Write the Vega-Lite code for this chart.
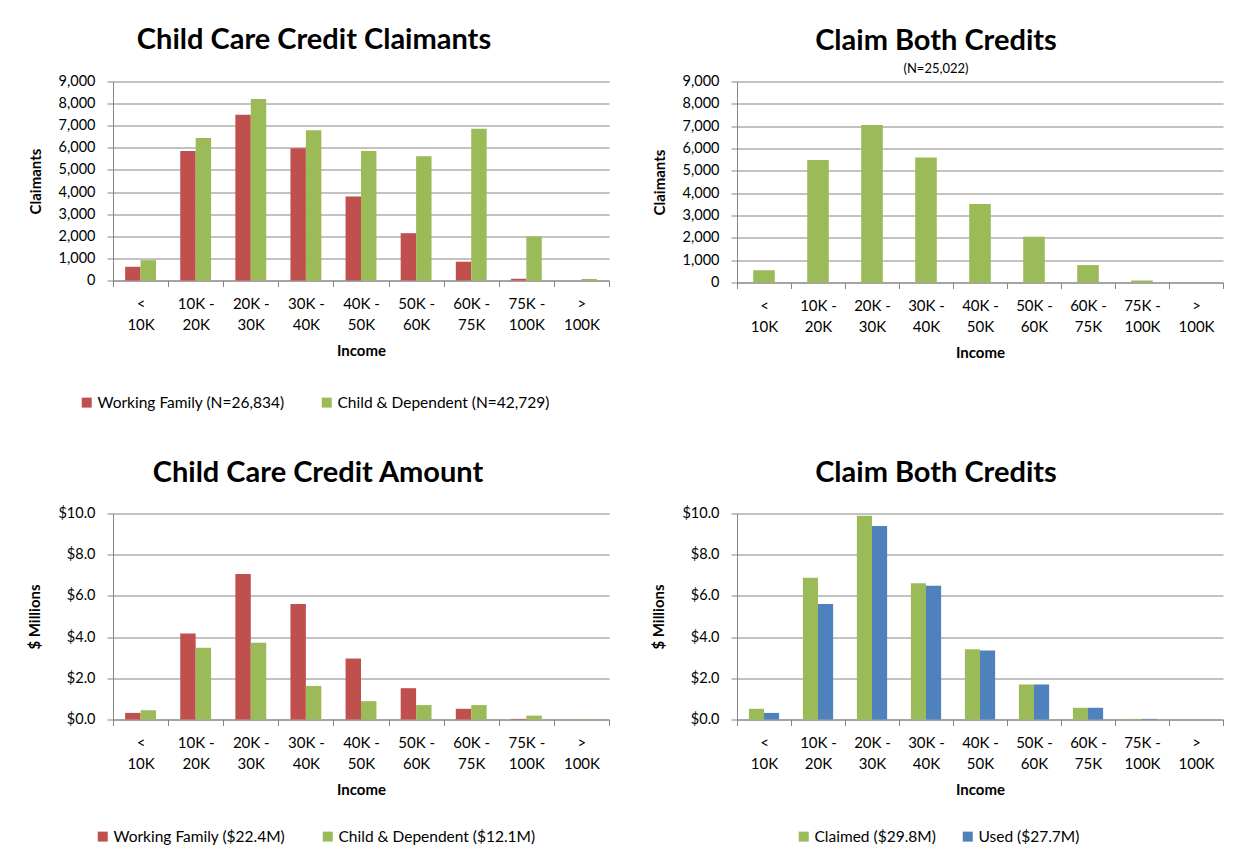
{
  "$schema": "https://vega.github.io/schema/vega-lite/v6.json",
  "background": "white",
  "padding": {"left": 27, "top": 25.5, "right": 0, "bottom": 0},
  "config": {
    "font": "Lato",
    "view": {"stroke": null},
    "title": {"font": "Lato", "fontSize": 29, "fontWeight": "bold", "color": "#000", "anchor": "middle", "frame": "group", "offset": 18.5, "subtitleFont": "Lato", "subtitleFontSize": 13, "subtitleColor": "#000"},
    "axis": {"labelFont": "Lato", "labelFontSize": 14, "labelColor": "#000", "titleFont": "Lato", "titleFontSize": 15, "titleFontWeight": "bold", "titleColor": "#000", "domainColor": "#868686", "tickColor": "#868686", "gridColor": "#868686", "gridOpacity": 1, "tickSize": 6},
    "axisX": {"labelAngle": 0, "grid": false, "tickBand": "extent", "labelFontSize": 15, "labelPadding": 10, "labelLineHeight": 21, "titlePadding": 11},
    "axisY": {"grid": true, "labelFontSize": 14.5, "labelPadding": 12, "titlePadding": 15},
    "legend": {"labelFont": "Lato", "labelFontSize": 15.5, "labelColor": "#000", "symbolType": "square", "symbolSize": 100, "symbolStrokeWidth": 0, "labelLimit": 400, "labelOffset": 3}
  },
  "datasets": {
    "claimants": [
      {"income": "< 10K", "series": "Working Family (N=26,834)", "value": 620},
      {"income": "< 10K", "series": "Child & Dependent (N=42,729)", "value": 920},
      {"income": "10K - 20K", "series": "Working Family (N=26,834)", "value": 5860},
      {"income": "10K - 20K", "series": "Child & Dependent (N=42,729)", "value": 6440},
      {"income": "20K - 30K", "series": "Working Family (N=26,834)", "value": 7500},
      {"income": "20K - 30K", "series": "Child & Dependent (N=42,729)", "value": 8210},
      {"income": "30K - 40K", "series": "Working Family (N=26,834)", "value": 5980},
      {"income": "30K - 40K", "series": "Child & Dependent (N=42,729)", "value": 6800},
      {"income": "40K - 50K", "series": "Working Family (N=26,834)", "value": 3800},
      {"income": "40K - 50K", "series": "Child & Dependent (N=42,729)", "value": 5860},
      {"income": "50K - 60K", "series": "Working Family (N=26,834)", "value": 2140},
      {"income": "50K - 60K", "series": "Child & Dependent (N=42,729)", "value": 5620},
      {"income": "60K - 75K", "series": "Working Family (N=26,834)", "value": 850},
      {"income": "60K - 75K", "series": "Child & Dependent (N=42,729)", "value": 6860},
      {"income": "75K - 100K", "series": "Working Family (N=26,834)", "value": 80},
      {"income": "75K - 100K", "series": "Child & Dependent (N=42,729)", "value": 1990},
      {"income": "> 100K", "series": "Working Family (N=26,834)", "value": 0},
      {"income": "> 100K", "series": "Child & Dependent (N=42,729)", "value": 70}
    ],
    "bothCount": [
      {"income": "< 10K", "value": 550},
      {"income": "10K - 20K", "value": 5480},
      {"income": "20K - 30K", "value": 7050},
      {"income": "30K - 40K", "value": 5600},
      {"income": "40K - 50K", "value": 3510},
      {"income": "50K - 60K", "value": 2050},
      {"income": "60K - 75K", "value": 780},
      {"income": "75K - 100K", "value": 90},
      {"income": "> 100K", "value": 5}
    ],
    "amount": [
      {"income": "< 10K", "series": "Working Family ($22.4M)", "value": 0.32},
      {"income": "< 10K", "series": "Child & Dependent ($12.1M)", "value": 0.45},
      {"income": "10K - 20K", "series": "Working Family ($22.4M)", "value": 4.18},
      {"income": "10K - 20K", "series": "Child & Dependent ($12.1M)", "value": 3.48},
      {"income": "20K - 30K", "series": "Working Family ($22.4M)", "value": 7.06},
      {"income": "20K - 30K", "series": "Child & Dependent ($12.1M)", "value": 3.72},
      {"income": "30K - 40K", "series": "Working Family ($22.4M)", "value": 5.61},
      {"income": "30K - 40K", "series": "Child & Dependent ($12.1M)", "value": 1.63},
      {"income": "40K - 50K", "series": "Working Family ($22.4M)", "value": 2.96},
      {"income": "40K - 50K", "series": "Child & Dependent ($12.1M)", "value": 0.89},
      {"income": "50K - 60K", "series": "Working Family ($22.4M)", "value": 1.52},
      {"income": "50K - 60K", "series": "Child & Dependent ($12.1M)", "value": 0.70},
      {"income": "60K - 75K", "series": "Working Family ($22.4M)", "value": 0.52},
      {"income": "60K - 75K", "series": "Child & Dependent ($12.1M)", "value": 0.70},
      {"income": "75K - 100K", "series": "Working Family ($22.4M)", "value": 0.03},
      {"income": "75K - 100K", "series": "Child & Dependent ($12.1M)", "value": 0.19},
      {"income": "> 100K", "series": "Working Family ($22.4M)", "value": 0.0},
      {"income": "> 100K", "series": "Child & Dependent ($12.1M)", "value": 0.02}
    ],
    "bothAmount": [
      {"income": "< 10K", "series": "Claimed ($29.8M)", "value": 0.52},
      {"income": "< 10K", "series": "Used ($27.7M)", "value": 0.32},
      {"income": "10K - 20K", "series": "Claimed ($29.8M)", "value": 6.88},
      {"income": "10K - 20K", "series": "Used ($27.7M)", "value": 5.61},
      {"income": "20K - 30K", "series": "Claimed ($29.8M)", "value": 9.89},
      {"income": "20K - 30K", "series": "Used ($27.7M)", "value": 9.39},
      {"income": "30K - 40K", "series": "Claimed ($29.8M)", "value": 6.62},
      {"income": "30K - 40K", "series": "Used ($27.7M)", "value": 6.49},
      {"income": "40K - 50K", "series": "Claimed ($29.8M)", "value": 3.41},
      {"income": "40K - 50K", "series": "Used ($27.7M)", "value": 3.35},
      {"income": "50K - 60K", "series": "Claimed ($29.8M)", "value": 1.70},
      {"income": "50K - 60K", "series": "Used ($27.7M)", "value": 1.70},
      {"income": "60K - 75K", "series": "Claimed ($29.8M)", "value": 0.57},
      {"income": "60K - 75K", "series": "Used ($27.7M)", "value": 0.57},
      {"income": "75K - 100K", "series": "Claimed ($29.8M)", "value": 0.03},
      {"income": "75K - 100K", "series": "Used ($27.7M)", "value": 0.03},
      {"income": "> 100K", "series": "Claimed ($29.8M)", "value": 0.0},
      {"income": "> 100K", "series": "Used ($27.7M)", "value": 0.0}
    ]
  },
  "columns": 2,
  "spacing": {"row": 231, "column": 128},
  "bounds": "flush",
  "resolve": {
    "scale": {"x": "independent", "y": "independent", "color": "independent", "xOffset": "independent"},
    "axis": {"x": "independent", "y": "independent"},
    "legend": {"color": "independent"}
  },
  "concat": [
    {
      "data": {"name": "claimants"},
      "width": 496,
      "height": 199,
      "title": {"text": "Child Care Credit Claimants", "dx": -47},
      "mark": {"type": "bar"},
      "encoding": {
        "x": {"field": "income", "type": "nominal", "sort": ["< 10K", "10K - 20K", "20K - 30K", "30K - 40K", "40K - 50K", "50K - 60K", "60K - 75K", "75K - 100K", "> 100K"], "scale": {"padding": 0}, "axis": {"title": "Income", "labelExpr": "indexof(datum.label, ' - ') > 0 ? [slice(datum.label, 0, indexof(datum.label, ' - ') + 2), slice(datum.label, indexof(datum.label, ' - ') + 3)] : (indexof(datum.label, ' ') > 0 ? ['\u00a0\u00a0\u00a0\u00a0\u00a0\u00a0\u00a0' + slice(datum.label, 0, indexof(datum.label, ' ')), slice(datum.label, indexof(datum.label, ' ') + 1)] : datum.label)"}},
        "xOffset": {"field": "series", "type": "nominal", "sort": ["Working Family (N=26,834)", "Child & Dependent (N=42,729)"], "scale": {"paddingInner": 0, "paddingOuter": 0.786}},
        "y": {"field": "value", "type": "quantitative", "scale": {"domain": [0, 9000], "nice": false}, "axis": {"title": "Claimants", "values": [0, 1000, 2000, 3000, 4000, 5000, 6000, 7000, 8000, 9000], "format": ",.0f"}},
        "color": {"field": "series", "type": "nominal", "scale": {"domain": ["Working Family (N=26,834)", "Child & Dependent (N=42,729)"], "range": ["#C0504D", "#9BBB59"]}, "legend": {"title": null, "orient": "none", "direction": "horizontal", "legendX": -34, "legendY": 313, "columnPadding": 34}}
      }
    },
    {
      "data": {"name": "bothCount"},
      "width": 486,
      "height": 201,
      "title": {"text": "Claim Both Credits", "subtitle": "(N=25,022)", "dx": -44, "offset": -2.5, "subtitlePadding": 7.5},
      "mark": {"type": "bar", "color": "#9BBB59", "width": {"band": 0.4}},
      "encoding": {
        "x": {"field": "income", "type": "nominal", "sort": ["< 10K", "10K - 20K", "20K - 30K", "30K - 40K", "40K - 50K", "50K - 60K", "60K - 75K", "75K - 100K", "> 100K"], "scale": {"padding": 0}, "axis": {"title": "Income", "labelExpr": "indexof(datum.label, ' - ') > 0 ? [slice(datum.label, 0, indexof(datum.label, ' - ') + 2), slice(datum.label, indexof(datum.label, ' - ') + 3)] : (indexof(datum.label, ' ') > 0 ? ['\u00a0\u00a0\u00a0\u00a0\u00a0\u00a0\u00a0' + slice(datum.label, 0, indexof(datum.label, ' ')), slice(datum.label, indexof(datum.label, ' ') + 1)] : datum.label)"}},
        "y": {"field": "value", "type": "quantitative", "scale": {"domain": [0, 9000], "nice": false}, "axis": {"title": "Claimants", "values": [0, 1000, 2000, 3000, 4000, 5000, 6000, 7000, 8000, 9000], "format": ",.0f"}}
      }
    },
    {
      "data": {"name": "amount"},
      "width": 496,
      "height": 206,
      "title": {"text": "Child Care Credit Amount", "dx": -43, "offset": 17.5},
      "mark": {"type": "bar"},
      "encoding": {
        "x": {"field": "income", "type": "nominal", "sort": ["< 10K", "10K - 20K", "20K - 30K", "30K - 40K", "40K - 50K", "50K - 60K", "60K - 75K", "75K - 100K", "> 100K"], "scale": {"padding": 0}, "axis": {"title": "Income", "labelExpr": "indexof(datum.label, ' - ') > 0 ? [slice(datum.label, 0, indexof(datum.label, ' - ') + 2), slice(datum.label, indexof(datum.label, ' - ') + 3)] : (indexof(datum.label, ' ') > 0 ? ['\u00a0\u00a0\u00a0\u00a0\u00a0\u00a0\u00a0' + slice(datum.label, 0, indexof(datum.label, ' ')), slice(datum.label, indexof(datum.label, ' ') + 1)] : datum.label)"}},
        "xOffset": {"field": "series", "type": "nominal", "sort": ["Working Family ($22.4M)", "Child & Dependent ($12.1M)"], "scale": {"paddingInner": 0, "paddingOuter": 0.786}},
        "y": {"field": "value", "type": "quantitative", "scale": {"domain": [0, 10], "nice": false}, "axis": {"title": "$ Millions", "values": [0, 2, 4, 6, 8, 10], "format": "$.1f"}},
        "color": {"field": "series", "type": "nominal", "scale": {"domain": ["Working Family ($22.4M)", "Child & Dependent ($12.1M)"], "range": ["#C0504D", "#9BBB59"]}, "legend": {"title": null, "orient": "none", "direction": "horizontal", "legendX": -18, "legendY": 315, "columnPadding": 34}}
      }
    },
    {
      "data": {"name": "bothAmount"},
      "width": 486,
      "height": 206,
      "title": {"text": "Claim Both Credits", "dx": -44, "offset": 17.5},
      "mark": {"type": "bar"},
      "encoding": {
        "x": {"field": "income", "type": "nominal", "sort": ["< 10K", "10K - 20K", "20K - 30K", "30K - 40K", "40K - 50K", "50K - 60K", "60K - 75K", "75K - 100K", "> 100K"], "scale": {"padding": 0}, "axis": {"title": "Income", "labelExpr": "indexof(datum.label, ' - ') > 0 ? [slice(datum.label, 0, indexof(datum.label, ' - ') + 2), slice(datum.label, indexof(datum.label, ' - ') + 3)] : (indexof(datum.label, ' ') > 0 ? ['\u00a0\u00a0\u00a0\u00a0\u00a0\u00a0\u00a0' + slice(datum.label, 0, indexof(datum.label, ' ')), slice(datum.label, indexof(datum.label, ' ') + 1)] : datum.label)"}},
        "xOffset": {"field": "series", "type": "nominal", "sort": ["Claimed ($29.8M)", "Used ($27.7M)"], "scale": {"paddingInner": 0, "paddingOuter": 0.786}},
        "y": {"field": "value", "type": "quantitative", "scale": {"domain": [0, 10], "nice": false}, "axis": {"title": "$ Millions", "values": [0, 2, 4, 6, 8, 10], "format": "$.1f"}},
        "color": {"field": "series", "type": "nominal", "scale": {"domain": ["Claimed ($29.8M)", "Used ($27.7M)"], "range": ["#9BBB59", "#4F81BD"]}, "legend": {"title": null, "orient": "none", "direction": "horizontal", "legendX": 59, "legendY": 315, "columnPadding": 24}}
      }
    }
  ]
}
